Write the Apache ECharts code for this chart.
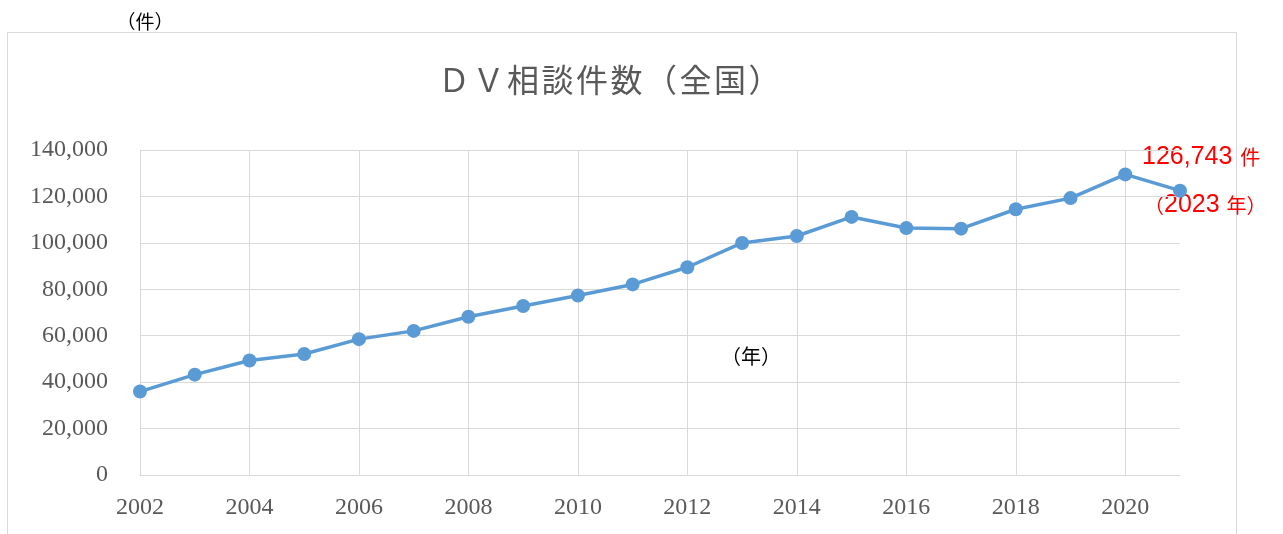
<!DOCTYPE html>
<html lang="ja">

<head>
    <meta charset="UTF-8">
    <script src="https://cdn.jsdelivr.net/npm/echarts@6/dist/echarts.min.js"></script>
    <title>DV相談件数</title>
    <style>
        html, body { margin: 0; padding: 0; background: #fff; }
        #main { width: 1283px; height: 534px; }
    </style>
</head>

<body>
    <div id="main"></div>
    <script>
        var years = ['2002', '2003', '2004', '2005', '2006', '2007', '2008', '2009', '2010', '2011',
            '2012', '2013', '2014', '2015', '2016', '2017', '2018', '2019', '2020', '2021'];
        var counts = [35943, 43225, 49329, 52145, 58528, 62078, 68196, 72792, 77334, 82099,
            89490, 99961, 102963, 111172, 106367, 106110, 114481, 119276, 129491, 122478];
        var titleText = 'ＤＶ相談件数（全国）';
        var yUnit = '（件）';
        var xUnit = '（年）';
        var noteCount = '126,743';
        var noteYear = '2023';

        var serif = '"Liberation Serif", "DejaVu Serif", serif';
        var cjk = '"Noto Sans CJK JP", sans-serif';
        var sans = '"Liberation Sans", Arial, sans-serif';

        // title is spaced out like the original, one char per cell
        var titleChars = titleText.split('').map(function (ch, i) {
            return {
                type: 'text', x: 454 + i * 34.5, y: 80,
                style: { text: ch, font: '32px ' + cjk, fill: '#595959', align: 'center', verticalAlign: 'middle' }
            };
        });

        var chart = echarts.init(document.getElementById('main'));
        var option = {
            animation: false,
            grid: { left: 140, right: 103, top: 150, bottom: 59 },
            graphic: [
                {
                    type: 'rect',
                    shape: { x: 7.5, y: 32.5, width: 1229, height: 520 },
                    style: { fill: 'none', stroke: '#d9d9d9', lineWidth: 1 }
                },
                {
                    type: 'text', x: 145, y: 22,
                    style: { text: yUnit, font: '19px ' + cjk, fill: '#000', align: 'center', verticalAlign: 'middle' }
                },
                {
                    type: 'text', x: 751, y: 356,
                    style: { text: xUnit, font: '20px ' + cjk, fill: '#000', align: 'center', verticalAlign: 'middle' }
                },
                {
                    type: 'text', x: 1142, y: 157,
                    style: {
                        text: '{n|' + noteCount + '}{k|件}',
                        verticalAlign: 'middle',
                        rich: {
                            n: { font: '25px ' + sans, fill: '#ff0000' },
                            k: { font: '20px ' + cjk, fill: '#ff0000', padding: [0, 0, 0, 8] }
                        }
                    }
                },
                {
                    type: 'text', x: 1144, y: 205,
                    style: {
                        text: '{p|（}{n|' + noteYear + '}{k|年）}',
                        verticalAlign: 'middle',
                        rich: {
                            p: { font: '20px ' + cjk, fill: '#ff0000' },
                            n: { font: '25px ' + sans, fill: '#ff0000' },
                            k: { font: '20px ' + cjk, fill: '#ff0000', padding: [0, 0, 0, 7] }
                        }
                    }
                }
            ].concat(titleChars),
            xAxis: {
                type: 'category',
                data: years,
                boundaryGap: false,
                axisLine: { lineStyle: { color: '#d9d9d9', width: 1 } },
                axisTick: { show: false },
                axisLabel: {
                    interval: 1,
                    margin: 21,
                    color: '#595959',
                    fontFamily: serif,
                    fontSize: 24
                },
                splitLine: { show: true, interval: 1, lineStyle: { color: '#d9d9d9', width: 1 } }
            },
            yAxis: {
                type: 'value',
                min: 0,
                max: 140000,
                interval: 20000,
                axisLine: { show: false },
                axisTick: { show: false },
                axisLabel: {
                    margin: 32,
                    color: '#595959',
                    fontFamily: serif,
                    fontSize: 24,
                    formatter: function (v) { return v.toLocaleString('en-US'); }
                },
                splitLine: { lineStyle: { color: '#d9d9d9', width: 1 } }
            },
            series: [
                {
                    type: 'line',
                    data: counts,
                    symbol: 'circle',
                    symbolSize: 14,
                    lineStyle: { color: '#5b9bd5', width: 3.5 },
                    itemStyle: { color: '#5b9bd5' }
                }
            ]
        };
        chart.setOption(option);
    </script>
</body>

</html>
